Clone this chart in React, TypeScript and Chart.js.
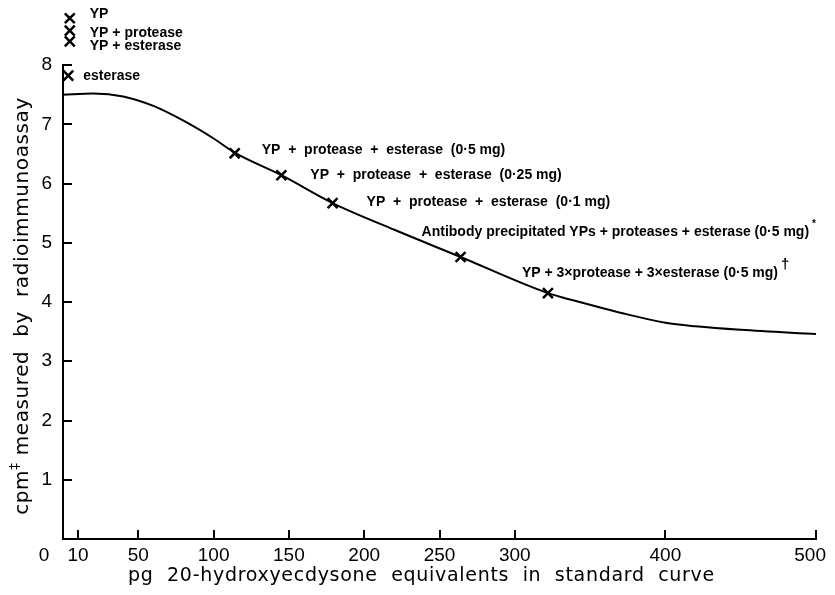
import React, { useEffect, useRef } from "react";
import { Chart, registerables } from "chart.js";

Chart.register(...registerables);

// Standard curve (pg 20-hydroxyecdysone equivalents vs cpm)
const curveX = [0, 20, 40, 60, 80, 100, 114, 145, 179, 220, 264, 322, 340, 370, 400, 420, 450, 500];
const curveY = [7.5, 7.52, 7.47, 7.31, 7.06, 6.76, 6.52, 6.14, 5.67, 5.22, 4.76, 4.15, 4.02, 3.82, 3.65, 3.59, 3.53, 3.46];

// Measured samples
const sampleLabels = [
  "esterase",
  "YP  +  protease  +  esterase  (0·5 mg)",
  "YP  +  protease  +  esterase  (0·25 mg)",
  "YP  +  protease  +  esterase  (0·1 mg)",
  "Antibody precipitated YPs + proteases + esterase (0·5 mg)",
  "YP + 3×protease + 3×esterase (0·5 mg)",
];
const sampleSup = ["", "", "", "", "*", "†"];
const sampleX = [3.5, 114, 145, 179, 264, 322];
const sampleY = [7.82, 6.51, 6.14, 5.67, 4.76, 4.15];

// Off-scale controls
const controlLabels = ["YP", "YP + protease", "YP + esterase"];
const controlX = [4.5, 4.5, 4.5];
const controlY = [8.79, 8.58, 8.4];

const xTicks = [10, 50, 100, 150, 200, 250, 300, 400, 500];
const xTickLabels = ["10", "50", "100", "150", "200", "250", "300", "400", "500"];
const originLabel = "0";
const yTicks = [1, 2, 3, 4, 5, 6, 7, 8];
const yAxisTop = 8;

const xTitle = "pg  20-hydroxyecdysone  equivalents  in  standard  curve";
const yTitleMain = "cpm";
const yTitleSup = "‡";
const yTitleRest = " measured  by  radioimmunoassay";

// layout (pixel offsets for text annotations)
const sampleLabelOffsets: [number, number][] = [
  [15, 0],
  [27, -3],
  [29, 0],
  [34, -1],
  [-39, -25],
  [-26, -20],
];
const controlLabelOffsets: [number, number][] = [
  [20, -4],
  [20, 2],
  [20, 5],
];

const FONT = "'Liberation Sans', Arial, sans-serif";
const TFONT = "'DejaVu Sans', sans-serif";

const overlayPlugin = {
  id: "overlay",
  afterDraw(chart: any) {
    const ctx = chart.ctx as any;
    const xs = chart.scales.x;
    const ys = chart.scales.y;
    const { left, bottom, right } = chart.chartArea;
    const W = chart.width;
    const yTopPx = ys.getPixelForValue(yAxisTop);
    ctx.save();
    ctx.strokeStyle = "#000";
    ctx.fillStyle = "#000";
    ctx.lineWidth = 2;
    // y axis line
    ctx.beginPath();
    ctx.moveTo(left, bottom + 1);
    ctx.lineTo(left, yTopPx - 1);
    ctx.stroke();
    // inward tick marks
    ctx.beginPath();
    for (const v of xTicks) {
      const px = Math.round(xs.getPixelForValue(v));
      ctx.moveTo(px, bottom);
      ctx.lineTo(px, bottom - 9);
    }
    for (const v of yTicks) {
      const py = Math.round(ys.getPixelForValue(v));
      ctx.moveTo(left, py);
      ctx.lineTo(left + 9, py);
    }
    ctx.stroke();

    // x tick labels (kept inside the canvas)
    ctx.font = `19px ${FONT}`;
    ctx.textAlign = "left";
    ctx.textBaseline = "middle";
    xTicks.forEach((v, i) => {
      const t = xTickLabels[i];
      const w = ctx.measureText(t).width;
      let x = xs.getPixelForValue(v) - w / 2;
      if (x + w > W - 1) x = W - 1 - w;
      ctx.fillText(t, x, bottom + 17);
    });
    // origin label
    ctx.textAlign = "center";
    ctx.fillText(originLabel, left - 19, bottom + 17);

    // x title
    ctx.font = `19px ${TFONT}`;
    ctx.letterSpacing = "0.7px";
    ctx.textBaseline = "alphabetic";
    ctx.fillText(xTitle, (left + right) / 2 - 18, bottom + 42);
    ctx.textBaseline = "middle";

    // y title (rotated, with superscript)
    ctx.save();
    ctx.translate(15, (yTopPx + bottom) / 2 + 4);
    ctx.rotate(-Math.PI / 2);
    ctx.letterSpacing = "0.6px";
    ctx.font = `20px ${TFONT}`;
    const w1 = ctx.measureText(yTitleMain).width;
    ctx.font = `14px ${TFONT}`;
    const w2 = ctx.measureText(yTitleSup).width;
    ctx.font = `20px ${TFONT}`;
    const w3 = ctx.measureText(yTitleRest).width;
    const total = w1 + w2 + w3;
    const x0 = -total / 2;
    ctx.textAlign = "left";
    ctx.fillText(yTitleMain, x0, 0);
    ctx.font = `14px ${TFONT}`;
    ctx.fillText(yTitleSup, x0 + w1, -8);
    ctx.font = `20px ${TFONT}`;
    ctx.fillText(yTitleRest, x0 + w1 + w2, 0);
    ctx.restore();
    ctx.letterSpacing = "0px";

    // sample annotations
    ctx.textAlign = "left";
    ctx.textBaseline = "middle";
    sampleLabels.forEach((t, i) => {
      const px = xs.getPixelForValue(sampleX[i]) + sampleLabelOffsets[i][0];
      const py = ys.getPixelForValue(sampleY[i]) + sampleLabelOffsets[i][1];
      ctx.font = `bold 14px ${FONT}`;
      ctx.fillText(t, px, py);
      if (sampleSup[i]) {
        const w = ctx.measureText(t).width;
        ctx.font = sampleSup[i] === "†" ? `bold 15px ${FONT}` : `bold 10px ${FONT}`;
        ctx.fillText(sampleSup[i], px + w + 3, py - 8);
      }
    });

    // control annotations
    controlLabels.forEach((t, i) => {
      const px = xs.getPixelForValue(controlX[i]) + controlLabelOffsets[i][0];
      const py = ys.getPixelForValue(controlY[i]) + controlLabelOffsets[i][1];
      ctx.font = `bold 14px ${FONT}`;
      ctx.fillText(t, px, py);
    });
    ctx.restore();
  },
};

export default function App() {
  const ref = useRef<HTMLCanvasElement | null>(null);
  useEffect(() => {
    if (!ref.current) return;
    const chart = new Chart(ref.current, {
      type: "line",
      data: {
        datasets: [
          {
            label: "Standard curve",
            data: curveX.map((x, i) => ({ x, y: curveY[i] })),
            borderColor: "#000",
            borderWidth: 2,
            pointRadius: 0,
            tension: 0.4,
            cubicInterpolationMode: "monotone",
            fill: false,
          },
          {
            label: "Samples",
            type: "scatter",
            data: sampleX.map((x, i) => ({ x, y: sampleY[i] })),
            pointStyle: "crossRot",
            pointRadius: 7,
            borderWidth: 2.5,
            borderColor: "#000",
            backgroundColor: "#000",
            clip: false,
          },
          {
            label: "Controls",
            type: "scatter",
            data: controlX.map((x, i) => ({ x, y: controlY[i] })),
            pointStyle: "crossRot",
            pointRadius: 7,
            borderWidth: 2.5,
            borderColor: "#000",
            backgroundColor: "#000",
            clip: false,
          },
        ],
      },
      options: {
        responsive: false,
        animation: false,
        layout: { autoPadding: false, padding: { top: 3.7, right: 11, left: 0, bottom: 0 } },
        plugins: { legend: { display: false }, tooltip: { enabled: false } },
        scales: {
          x: {
            type: "linear",
            min: 0,
            max: 500,
            grid: { display: false, drawTicks: false },
            border: { display: true, color: "#000", width: 2 },
            afterBuildTicks: (scale: any) => {
              scale.ticks = xTicks.map((v) => ({ value: v }));
            },
            afterFit: (scale: any) => {
              scale.height = 48;
              scale.paddingLeft = 0;
              scale.paddingRight = 0;
            },
            ticks: { display: false, autoSkip: false, maxRotation: 0 },
          },
          y: {
            type: "linear",
            min: 0,
            max: 8.9,
            grid: { display: false, drawTicks: false },
            border: { display: false },
            afterBuildTicks: (scale: any) => {
              scale.ticks = yTicks.map((v) => ({ value: v }));
            },
            afterFit: (scale: any) => {
              scale.width = 55;
              scale.paddingTop = 0;
              scale.paddingBottom = 0;
            },
            ticks: {
              padding: 11,
              color: "#000",
              font: { family: FONT, size: 19 },
              callback: (v: any) => String(v),
            },
          },
        },
      },
      plugins: [overlayPlugin],
    } as any);
    return () => chart.destroy();
  }, []);
  return (
    <div style={{ width: 819, height: 579 }}>
      <canvas ref={ref} width={819} height={579} style={{ display: "block" }} />
    </div>
  );
}
